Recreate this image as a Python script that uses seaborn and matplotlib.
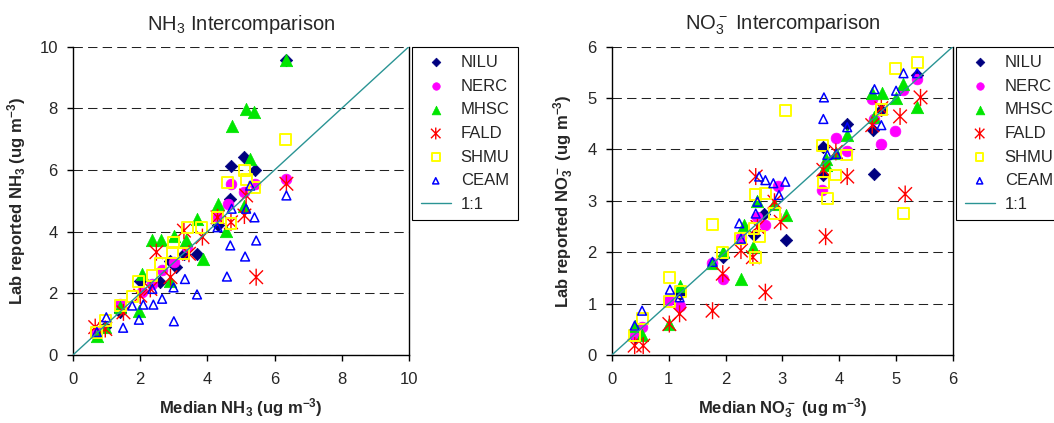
import matplotlib
matplotlib.use("Agg")
import matplotlib.pyplot as plt
import seaborn as sns
from matplotlib.path import Path

# ---- NH3 intercomparison (median vs lab reported, ug m-3) ----
NH3_NILU_X = [0.71, 0.96, 1.41, 2.0, 2.6, 2.9, 3.05, 3.3, 3.7, 4.3, 4.68, 4.7, 5.1, 5.43, 6.35]
NH3_NILU_Y = [0.74, 0.9, 1.38, 2.41, 2.36, 3.06, 2.84, 3.28, 3.28, 4.2, 5.06, 6.12, 6.41, 5.98, 9.57]

NH3_NERC_X = [0.71, 1.41, 2.05, 2.35, 2.65, 3.0, 3.4, 4.3, 4.6, 4.7, 5.1, 5.43, 6.35]
NH3_NERC_Y = [0.74, 1.65, 2.03, 2.3, 2.74, 3.0, 3.49, 4.46, 4.9, 5.55, 5.28, 5.55, 5.71]

NH3_MHSC_X = [0.71, 0.96, 1.41, 1.96, 2.05, 2.35, 2.63, 2.9, 3.0, 3.35, 3.68, 3.88, 4.3,
              4.55, 4.72, 5.1, 5.15, 5.28, 5.4, 6.35]
NH3_MHSC_Y = [0.6, 0.9, 1.55, 1.42, 2.63, 3.73, 3.71, 2.41, 3.87, 3.71, 4.41, 3.11, 4.9,
              4.03, 7.42, 4.84, 7.98, 6.36, 7.87, 9.57]

NH3_FALD_X = [0.66, 0.96, 1.5, 2.0, 2.3, 2.48, 2.9, 3.3, 3.45, 3.85, 4.3, 4.7, 5.1, 5.15, 5.45, 6.35]
NH3_FALD_Y = [0.9, 0.84, 1.38, 1.92, 2.14, 3.33, 2.52, 4.03, 3.28, 3.82, 4.46, 4.3, 4.52, 5.17, 2.52, 5.55]

NH3_SHMU_X = [0.71, 0.96, 1.41, 1.76, 1.96, 2.35, 2.6, 2.96, 2.99, 3.3, 3.42, 3.83, 4.3,
              4.6, 4.7, 5.1, 5.15, 5.4, 6.32]
NH3_SHMU_Y = [0.74, 1.11, 1.6, 1.89, 2.39, 2.57, 2.97, 3.33, 3.65, 3.28, 4.12, 4.12, 4.46,
              5.6, 4.27, 5.98, 5.68, 5.44, 7.0]

NH3_CEAM_X = [0.71, 0.99, 1.49, 1.76, 1.96, 2.09, 2.39, 2.36, 2.65, 2.99, 3.0, 3.33, 3.69,
              4.3, 4.58, 4.68, 4.72, 5.12, 5.15, 5.27, 5.4, 5.45, 6.35]
NH3_CEAM_Y = [0.74, 1.22, 0.88, 1.6, 1.14, 1.63, 1.63, 2.14, 1.82, 2.19, 1.09, 2.46, 1.96,
              4.14, 2.54, 3.55, 4.74, 3.19, 4.74, 5.49, 4.46, 3.71, 5.17]

# ---- NO3- intercomparison ----
NO3_NILU_X = [0.4, 1.19, 1.95, 2.5, 2.68, 3.07, 3.72, 3.72, 4.14, 4.6, 4.62, 4.74, 5.37]
NO3_NILU_Y = [0.35, 1.19, 1.9, 2.33, 2.75, 2.23, 4.05, 3.5, 4.5, 4.38, 3.52, 4.77, 5.45]

NO3_NERC_X = [0.4, 0.53, 1.01, 1.19, 1.76, 1.95, 2.27, 2.56, 2.7, 2.92, 3.7, 3.94, 4.13,
              4.58, 4.61, 4.74, 4.98, 5.13, 5.37]
NO3_NERC_Y = [0.38, 0.54, 1.06, 0.96, 1.79, 1.48, 2.3, 2.69, 2.52, 3.28, 3.2, 4.22, 3.97,
              4.97, 4.59, 4.1, 4.36, 5.15, 5.36]

NO3_MHSC_X = [0.41, 0.53, 1.01, 1.19, 1.76, 1.95, 2.27, 2.32, 2.48, 2.56, 2.86, 3.07, 3.76,
              3.76, 3.95, 4.14, 4.58, 4.61, 4.75, 5.0, 5.13, 5.37]
NO3_MHSC_Y = [0.57, 0.38, 0.6, 1.35, 1.79, 2.0, 1.48, 2.52, 2.1, 3.0, 2.94, 2.72, 3.82,
              3.7, 3.92, 4.28, 5.09, 4.63, 5.1, 5.0, 5.28, 4.83]

NO3_FALD_X = [0.4, 0.55, 1.01, 1.19, 1.77, 1.95, 2.27, 2.48, 2.53, 2.56, 2.7, 2.86, 2.97,
              3.72, 3.76, 3.94, 4.14, 4.58, 4.74, 5.07, 5.16, 5.43]
NO3_FALD_Y = [0.18, 0.18, 0.6, 0.8, 0.86, 1.58, 2.03, 1.9, 3.47, 2.49, 1.22, 2.98, 2.59,
              3.6, 2.3, 3.95, 3.47, 4.47, 4.8, 4.64, 3.13, 5.01]

NO3_SHMU_X = [0.4, 0.53, 1.02, 1.02, 1.2, 1.77, 1.95, 2.26, 2.5, 2.53, 2.59, 2.53, 2.7,
              2.86, 3.05, 3.7, 3.72, 3.79, 3.94, 4.13, 4.75, 4.99, 5.13, 5.37]
NO3_SHMU_Y = [0.38, 0.7, 1.5, 1.03, 1.24, 2.54, 2.0, 2.26, 2.46, 3.13, 2.3, 1.9, 3.14,
              2.75, 4.75, 4.08, 3.35, 3.04, 3.5, 3.89, 4.77, 5.58, 2.76, 5.69]

NO3_CEAM_X = [0.4, 0.53, 1.02, 1.19, 1.77, 2.24, 2.27, 2.53, 2.56, 2.59, 2.7, 2.84, 2.94,
              3.05, 3.72, 3.73, 3.79, 3.95, 4.14, 4.62, 4.74, 5.0, 5.13, 5.37]
NO3_CEAM_Y = [0.57, 0.86, 1.27, 1.12, 1.81, 2.56, 2.26, 2.75, 2.98, 3.47, 3.4, 3.34, 3.11,
              3.37, 4.59, 5.01, 3.89, 3.91, 4.43, 5.17, 4.47, 5.14, 5.48, 5.48]

LAB_NAMES = ["NILU", "NERC", "MHSC", "FALD", "SHMU", "CEAM"]

sns.set_theme(style="ticks")
plt.rcParams['font.family'] = ['Liberation Sans', 'DejaVu Sans']
plt.rcParams['mathtext.default'] = 'regular'

# Excel-like asterisk marker (x + vertical bar)
ASTERISK = Path([(0, -1), (0, 1), (-0.8, -0.8), (0.8, 0.8), (-0.8, 0.8), (0.8, -0.8)],
                [Path.MOVETO, Path.LINETO] * 3)

# marker, size, face, edge, linewidth
STYLES = {
    "NILU": dict(marker="D", s=40, color="#000080", edgecolor="#000080", linewidth=0.5),
    "NERC": dict(marker="o", s=60, color="#FF00FF", edgecolor="#FF00FF", linewidth=0.5),
    "MHSC": dict(marker="^", s=80, color="#00E600", edgecolor="#00E600", linewidth=0.5),
    "FALD": dict(marker=ASTERISK, s=150, color="#FF0000", facecolor="none",
                 edgecolor="#FF0000", linewidth=1.0),
    "SHMU": dict(marker="s", s=62, color="#FFFF00", facecolor="none",
                 edgecolor="#FFFF00", linewidth=1.4),
    "CEAM": dict(marker="^", s=40, color="#0000FF", facecolor="none",
                 edgecolor="#0000FF", linewidth=1.1),
}


def draw_panel(ax, data, lim, step, title, xlabel, ylabel):
    for name, (xs, ys) in zip(LAB_NAMES, data):
        sns.scatterplot(x=xs, y=ys, ax=ax, label=name, zorder=3, **STYLES[name])
    ax.plot([0, lim], [0, lim], color="#2A9494", lw=1.0, label="1:1", zorder=4)

    ax.set_xlim(0, lim)
    ax.set_ylim(0, lim)
    ticks = list(range(0, lim + 1, step))
    ax.set_xticks(ticks)
    ax.set_yticks(ticks)
    ax.yaxis.grid(True, color="#222222", linestyle=(0, (9, 5)), lw=0.75)
    ax.set_axisbelow(True)
    for side in ["left", "bottom", "right"]:
        ax.spines[side].set_color("black")
        ax.spines[side].set_linewidth(1.0)
    ax.spines["top"].set_visible(False)
    ax.tick_params(axis="both", direction="out", length=4, width=1, color="black",
                   labelsize=12, pad=7)
    ax.tick_params(axis="x", pad=8)

    ax.set_title(title, fontsize=14.5, pad=12)
    ax.set_xlabel(xlabel, fontsize=12, fontweight="bold", labelpad=7)
    ax.set_ylabel(ylabel, fontsize=12, fontweight="bold", labelpad=8)

    leg = ax.legend(loc="upper left", bbox_to_anchor=(1.01, 1.0), borderaxespad=0,
                    fontsize=12, scatterpoints=1, markerscale=0.7, handlelength=1.8,
                    handletextpad=0.6, borderpad=0.5, labelspacing=0.52,
                    frameon=True, fancybox=False)
    leg.get_frame().set_edgecolor("black")
    leg.get_frame().set_linewidth(0.8)
    leg.get_frame().set_alpha(1)


fig = plt.figure(figsize=(10.54, 4.23), dpi=100)
ax1 = fig.add_axes([0.0693, 0.161, 0.3188, 0.729])
ax2 = fig.add_axes([0.5806, 0.161, 0.3235, 0.729])

draw_panel(ax1,
           [(NH3_NILU_X, NH3_NILU_Y), (NH3_NERC_X, NH3_NERC_Y), (NH3_MHSC_X, NH3_MHSC_Y),
            (NH3_FALD_X, NH3_FALD_Y), (NH3_SHMU_X, NH3_SHMU_Y), (NH3_CEAM_X, NH3_CEAM_Y)],
           10, 2, r"NH$_3$ Intercomparison",
           r"Median NH$_3$ (ug m$^{-3}$)", r"Lab reported NH$_3$ (ug m$^{-3}$)")

draw_panel(ax2,
           [(NO3_NILU_X, NO3_NILU_Y), (NO3_NERC_X, NO3_NERC_Y), (NO3_MHSC_X, NO3_MHSC_Y),
            (NO3_FALD_X, NO3_FALD_Y), (NO3_SHMU_X, NO3_SHMU_Y), (NO3_CEAM_X, NO3_CEAM_Y)],
           6, 1, r"NO$_3^-$ Intercomparison",
           r"Median NO$_3^-$ (ug m$^{-3}$)", r"Lab reported NO$_3^-$ (ug m$^{-3}$)")

fig.savefig("out.png", dpi=100)
